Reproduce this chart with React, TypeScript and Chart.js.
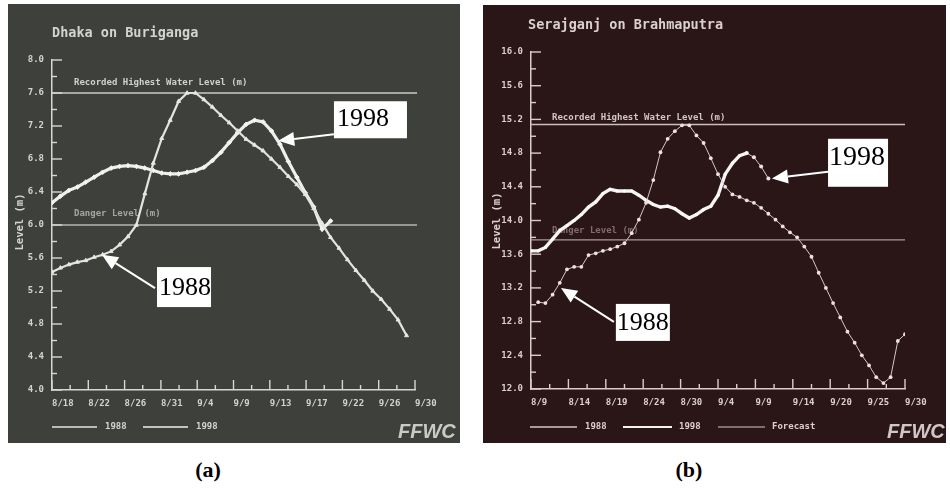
import React, { useEffect, useRef } from "react";
import { Chart, registerables } from "chart.js";

Chart.register(...registerables);

// ---------------- data ----------------
// Panel (a): Dhaka on Buriganga — daily water level (m), day 0 = 8/18
const dhakaTickLabels = ["8/18", "8/22", "8/26", "8/31", "9/4", "9/9", "9/13", "9/17", "9/22", "9/26", "9/30"];
const dhakaSpanDays = 43;
const dhaka1988Start = 0;
const dhaka1988 = [
  5.43, 5.48, 5.52, 5.55, 5.57, 5.61, 5.64, 5.68, 5.76, 5.86, 6.0, 6.38, 6.75, 7.05, 7.27, 7.5, 7.6, 7.6,
  7.52, 7.43, 7.33, 7.24, 7.14, 7.04, 6.97, 6.9, 6.8, 6.7, 6.59, 6.49, 6.37, 6.2, 6.02, 5.85, 5.72, 5.58,
  5.45, 5.33, 5.2, 5.1, 4.98, 4.85, 4.66,
];
const dhaka1998Start = 0;
const dhaka1998 = [
  6.27, 6.35, 6.42, 6.46, 6.52, 6.58, 6.64, 6.69, 6.71, 6.72, 6.71, 6.69, 6.66, 6.63, 6.62, 6.62, 6.64,
  6.66, 6.7, 6.78, 6.88, 7.0, 7.12, 7.22, 7.27, 7.25, 7.14, 6.98, 6.77, 6.58, 6.39, 6.22, 5.95, 6.05,
];
const dhakaRecordLevel = 7.6;
const dhakaDangerLevel = 6.0;

// Panel (b): Serajganj on Brahmaputra — daily water level (m), day 0 = 8/9
const serajTickLabels = ["8/9", "8/14", "8/19", "8/24", "8/30", "9/4", "9/9", "9/14", "9/20", "9/25", "9/30"];
const serajSpanDays = 52;
const seraj1988Start = 1;
const seraj1988 = [
  13.03, 13.02, 13.12, 13.26, 13.42, 13.45, 13.45, 13.59, 13.61, 13.64, 13.66, 13.69, 13.73, 13.85, 14.01,
  14.21, 14.48, 14.81, 14.97, 15.06, 15.13, 15.13, 15.01, 14.92, 14.74, 14.55, 14.4, 14.31, 14.28, 14.24,
  14.21, 14.15, 14.08, 14.01, 13.93, 13.86, 13.8, 13.69, 13.57, 13.38, 13.2, 13.02, 12.85, 12.68, 12.55,
  12.4, 12.28, 12.14, 12.07, 12.14, 12.57, 12.65,
];
const seraj1998Start = 0;
const seraj1998 = [
  13.64, 13.64, 13.68, 13.78, 13.88, 13.94, 14.0, 14.07, 14.16, 14.22, 14.32, 14.37, 14.35, 14.35, 14.35,
  14.3, 14.24, 14.19, 14.16, 14.17, 14.14, 14.08, 14.03, 14.07, 14.13, 14.17, 14.3, 14.55, 14.68, 14.77, 14.8,
];
const serajForecastStart = 30;
const serajForecast = [14.8, 14.75, 14.64, 14.5];
const serajRecordLevel = 15.14;
const serajDangerLevel = 13.77;

const toPoints = (vals: number[], start: number) => vals.map((y, i) => ({ x: start + i, y }));

// ---------------- panel specs ----------------
const MONO = "'DejaVu Sans Mono', monospace";

type Note = {
  text: string; tipX: number; tipY: number; boxX: number; boxY: number;
  w: number; h: number; tailDx: number; tailDy: number; textDx: number; textDy: number; size: number;
};

type PanelSpec = {
  left: number; top: number; w: number; h: number; bg: string;
  yMin: number; yMax: number; yLeft: number; xBottom: number; padTop: number; padRight: number;
  labels: string[]; span: number;
  title: string; titleX: number; titleY: number;
  textColor: string; axisColor: string;
  refLines: { value: number; label: string; labelColor: string; lineColor: string; labelX: number; labelDy: number }[];
  refOverhang: number;
  axisLabelX: number; axisLabelY: number;
  legendY: number;
  legend: { x: number; len: number; lw: number; label: string; textX: number }[];
  logoX: number; logoY: number; logoColor: string;
  notes: Note[];
  datasets: any[];
};

const panelA: PanelSpec = {
  left: 8, top: 4, w: 452, h: 439, bg: "#3e403c",
  yMin: 4, yMax: 8, yLeft: 44, xBottom: 53, padTop: 56, padRight: 45,
  labels: dhakaTickLabels, span: dhakaSpanDays,
  title: "Dhaka on Buriganga", titleX: 44, titleY: 29,
  textColor: "#d2d4d0", axisColor: "#d6d8d4",
  refLines: [
    { value: dhakaRecordLevel, label: "Recorded Highest Water Level (m)", labelColor: "#cfd1cd", lineColor: "#c9cbc7", labelX: 66, labelDy: -10 },
    { value: dhakaDangerLevel, label: "Danger Level (m)", labelColor: "#a3a6a1", lineColor: "#b4b6b2", labelX: 66, labelDy: -11 },
  ],
  refOverhang: 2,
  axisLabelX: 12, axisLabelY: 218,
  legendY: 423,
  legend: [
    { x: 44, len: 45, lw: 1.6, label: "1988", textX: 97 },
    { x: 135, len: 45, lw: 1.6, label: "1998", textX: 188 },
  ],
  logoX: 390, logoY: 428, logoColor: "#c8cac6",
  notes: [
    { text: "1998", tipX: 26.8, tipY: 7.02, boxX: 33.4, boxY: 7.5, w: 73, h: 37, tailDx: 0, tailDy: 33, textDx: 3, textDy: 18, size: 26 },
    { text: "1988", tipX: 5.92, tipY: 5.64, boxX: 12.44, boxY: 5.49, w: 54, h: 40, tailDx: -2, tailDy: 21, textDx: 2, textDy: 21, size: 26 },
  ],
  datasets: [
    {
      label: "1988", data: toPoints(dhaka1988, dhaka1988Start),
      borderColor: "#e1e5e1", backgroundColor: "#e1e5e1", borderWidth: 2.2,
      pointStyle: "triangle", pointRadius: 2.3, pointBorderWidth: 1, pointBackgroundColor: "#e9ede9",
    },
    {
      label: "1998", data: toPoints(dhaka1998, dhaka1998Start),
      borderColor: "#eef0ee", backgroundColor: "#eef0ee", borderWidth: 3.2,
      pointStyle: "rectRot", pointRadius: 2.3, pointBorderWidth: 1, pointBackgroundColor: "#f4f6f4",
    },
  ],
};

const panelB: PanelSpec = {
  left: 483, top: 5, w: 463, h: 438, bg: "#2b1617",
  yMin: 12, yMax: 16, yLeft: 48, xBottom: 54, padTop: 47, padRight: 41,
  labels: serajTickLabels, span: serajSpanDays,
  title: "Serajganj on Brahmaputra", titleX: 45, titleY: 20,
  textColor: "#dccfcf", axisColor: "#d8cccc",
  refLines: [
    { value: serajRecordLevel, label: "Recorded Highest Water Level (m)", labelColor: "#d2c5c5", lineColor: "#cbbdbd", labelX: 69, labelDy: -7 },
    { value: serajDangerLevel, label: "Danger Level (m)", labelColor: "#836b6b", lineColor: "#a99a9a", labelX: 69, labelDy: -9 },
  ],
  refOverhang: 0,
  axisLabelX: 14, axisLabelY: 216,
  legendY: 422,
  legend: [
    { x: 47, len: 47, lw: 1.3, label: "1988", textX: 102 },
    { x: 140, len: 49, lw: 2.2, label: "1998", textX: 196 },
    { x: 235, len: 47, lw: 1, label: "Forecast", textX: 289 },
  ],
  logoX: 404, logoY: 427, logoColor: "#d0c6c6",
  notes: [
    { text: "1998", tipX: 33.5, tipY: 14.5, boxX: 41.3, boxY: 14.97, w: 60, h: 48, tailDx: 0, tailDy: 33, textDx: 1, textDy: 19, size: 28 },
    { text: "1988", tipX: 4.17, tipY: 13.2, boxX: 11.8, boxY: 13.01, w: 54, h: 37, tailDx: -2, tailDy: 18, textDx: 1, textDy: 19, size: 26 },
  ],
  datasets: [
    {
      label: "1988", data: toPoints(seraj1988, seraj1988Start),
      borderColor: "#d4c6c6", backgroundColor: "#d4c6c6", borderWidth: 1,
      pointStyle: "circle", pointRadius: 1.9, pointBorderWidth: 0, pointBackgroundColor: "#ebe3e3",
    },
    {
      label: "1998", data: toPoints(seraj1998, seraj1998Start),
      borderColor: "#f6f2f2", backgroundColor: "#f6f2f2", borderWidth: 3.4,
      pointStyle: "circle", pointRadius: 1.6, pointBorderWidth: 0, pointBackgroundColor: "#ffffff",
    },
    {
      label: "Forecast", data: toPoints(serajForecast, serajForecastStart),
      borderColor: "#d4c6c6", backgroundColor: "#d4c6c6", borderWidth: 1,
      pointStyle: "circle", pointRadius: 2, pointBorderWidth: 0, pointBackgroundColor: "#ebe3e3",
    },
  ],
};

// ---------------- decoration plugin ----------------
function decorPlugin(spec: PanelSpec) {
  return {
    id: "decor",
    beforeDatasetsDraw(chart: any) {
      const { ctx, chartArea, scales } = chart;
      const xs = scales.x;
      const ys = scales.y;
      ctx.save();
      // reference lines
      spec.refLines.forEach((r) => {
        const py = ys.getPixelForValue(r.value);
        ctx.strokeStyle = r.lineColor;
        ctx.lineWidth = 1.4;
        ctx.beginPath();
        ctx.moveTo(chartArea.left, py);
        ctx.lineTo(chartArea.right + spec.refOverhang, py);
        ctx.stroke();
        ctx.fillStyle = r.labelColor;
        ctx.font = `bold 9px ${MONO}`;
        ctx.textAlign = "left";
        ctx.textBaseline = "middle";
        ctx.fillText(r.label, r.labelX, py + r.labelDy);
      });
      // inward tick marks
      ctx.strokeStyle = spec.axisColor;
      ctx.lineWidth = 1.4;
      const ySteps = Math.round((spec.yMax - spec.yMin) / 0.2);
      for (let k = 0; k <= ySteps; k++) {
        const py = ys.getPixelForValue(spec.yMin + k * 0.2);
        const len = k % 2 === 0 ? 10 : 5;
        ctx.beginPath();
        ctx.moveTo(chartArea.left, py);
        ctx.lineTo(chartArea.left + len, py);
        ctx.stroke();
      }
      const n = (spec.labels.length - 1) * 2;
      for (let k = 0; k <= n; k++) {
        const px = xs.getPixelForValue((k * spec.span) / n);
        const len = k % 2 === 0 ? 10 : 5;
        ctx.beginPath();
        ctx.moveTo(px, chartArea.bottom);
        ctx.lineTo(px, chartArea.bottom - len);
        ctx.stroke();
      }
      ctx.restore();
    },
    afterDraw(chart: any) {
      const { ctx, scales } = chart;
      const xs = scales.x;
      const ys = scales.y;
      ctx.save();
      // title
      ctx.fillStyle = spec.textColor;
      ctx.font = `bold 13.5px ${MONO}`;
      ctx.textAlign = "left";
      ctx.textBaseline = "middle";
      ctx.fillText(spec.title, spec.titleX, spec.titleY);
      // y-axis title
      ctx.save();
      ctx.translate(spec.axisLabelX, spec.axisLabelY);
      ctx.rotate(-Math.PI / 2);
      ctx.font = `bold 10.5px ${MONO}`;
      ctx.textAlign = "center";
      ctx.fillText("Level (m)", 0, 0);
      ctx.restore();
      // legend
      chart.data.datasets.forEach((ds: any, i: number) => {
        const it = spec.legend[i];
        if (!it) return;
        ctx.strokeStyle = ds.borderColor;
        ctx.lineWidth = it.lw;
        ctx.beginPath();
        ctx.moveTo(it.x, spec.legendY);
        ctx.lineTo(it.x + it.len, spec.legendY);
        ctx.stroke();
        ctx.fillStyle = spec.textColor;
        ctx.font = `bold 9px ${MONO}`;
        ctx.textAlign = "left";
        ctx.textBaseline = "middle";
        ctx.fillText(ds.label, it.textX, spec.legendY);
      });
      // logo
      ctx.fillStyle = spec.logoColor;
      ctx.font = "bold italic 20px 'Liberation Sans', Arial, sans-serif";
      ctx.textAlign = "left";
      ctx.textBaseline = "middle";
      ctx.fillText("FFWC", spec.logoX, spec.logoY);
      // annotation boxes with arrows
      spec.notes.forEach((nt) => {
        const bx = xs.getPixelForValue(nt.boxX);
        const by = ys.getPixelForValue(nt.boxY);
        const tx = xs.getPixelForValue(nt.tipX);
        const ty = ys.getPixelForValue(nt.tipY);
        const sx = bx + nt.tailDx;
        const sy = by + nt.tailDy;
        const ang = Math.atan2(ty - sy, tx - sx);
        const headLen = 16;
        const headHalf = 7;
        const baseX = tx - headLen * Math.cos(ang);
        const baseY = ty - headLen * Math.sin(ang);
        ctx.strokeStyle = "#ffffff";
        ctx.fillStyle = "#ffffff";
        ctx.lineWidth = 2;
        ctx.beginPath();
        ctx.moveTo(sx, sy);
        ctx.lineTo(baseX, baseY);
        ctx.stroke();
        ctx.beginPath();
        ctx.moveTo(tx, ty);
        ctx.lineTo(baseX + headHalf * Math.sin(ang), baseY - headHalf * Math.cos(ang));
        ctx.lineTo(baseX - headHalf * Math.sin(ang), baseY + headHalf * Math.cos(ang));
        ctx.closePath();
        ctx.fill();
        ctx.fillRect(bx, by, nt.w, nt.h);
        ctx.fillStyle = "#000000";
        ctx.font = `${nt.size}px 'Liberation Serif', 'Times New Roman', serif`;
        ctx.textAlign = "left";
        ctx.textBaseline = "middle";
        ctx.fillText(nt.text, bx + nt.textDx, by + nt.textDy);
      });
      ctx.restore();
    },
  };
}

function buildConfig(spec: PanelSpec): any {
  const labels = spec.labels;
  const nInt = labels.length - 1;
  return {
    type: "line",
    data: { datasets: spec.datasets },
    options: {
      responsive: false,
      animation: false,
      devicePixelRatio: 1,
      events: [],
      layout: { padding: { left: 0, right: spec.padRight, top: spec.padTop, bottom: 0 } },
      plugins: { legend: { display: false }, tooltip: { enabled: false }, title: { display: false } },
      elements: { line: { tension: 0 } },
      scales: {
        x: {
          type: "linear",
          min: 0,
          max: spec.span,
          afterBuildTicks: (s: any) => {
            s.ticks = labels.map((_, i) => ({ value: (i * spec.span) / nInt }));
          },
          afterFit: (s: any) => {
            s.height = spec.xBottom;
          },
          grid: { display: false, drawTicks: false },
          border: { display: true, color: spec.axisColor, width: 1.5 },
          ticks: {
            autoSkip: false,
            maxRotation: 0,
            minRotation: 0,
            align: "start",
            padding: 8,
            color: spec.textColor,
            font: { family: MONO, size: 9, weight: "bold" },
            callback: (_v: any, i: number) => labels[i],
          },
        },
        y: {
          type: "linear",
          min: spec.yMin,
          max: spec.yMax,
          afterBuildTicks: (s: any) => {
            const t = [];
            const steps = Math.round((spec.yMax - spec.yMin) / 0.4);
            for (let k = 0; k <= steps; k++) t.push({ value: spec.yMin + k * 0.4 });
            s.ticks = t;
          },
          afterFit: (s: any) => {
            s.width = spec.yLeft;
          },
          grid: { display: false, drawTicks: false },
          border: { display: true, color: spec.axisColor, width: 1.5 },
          ticks: {
            padding: 8,
            color: spec.textColor,
            font: { family: MONO, size: 9, weight: "bold" },
            callback: (v: any) => Number(v).toFixed(1),
          },
        },
      },
    },
    plugins: [decorPlugin(spec)],
  };
}

function Panel({ spec }: { spec: PanelSpec }) {
  const ref = useRef<HTMLCanvasElement>(null);
  useEffect(() => {
    if (!ref.current) return;
    const chart = new Chart(ref.current, buildConfig(spec));
    return () => chart.destroy();
  }, [spec]);
  return (
    <canvas
      ref={ref}
      width={spec.w}
      height={spec.h}
      style={{ position: "absolute", left: spec.left, top: spec.top, width: spec.w, height: spec.h, background: spec.bg }}
    />
  );
}

const captionStyle: React.CSSProperties = {
  position: "absolute",
  top: 456,
  width: 60,
  textAlign: "center",
  fontFamily: "'Liberation Serif', 'Times New Roman', serif",
  fontWeight: "bold",
  fontSize: 22,
  lineHeight: "28px",
  color: "#000",
};

export default function App() {
  return (
    <div style={{ position: "fixed", left: 0, top: 0, width: 950, height: 490, background: "#ffffff", overflow: "hidden" }}>
      <Panel spec={panelA} />
      <Panel spec={panelB} />
      <div style={{ ...captionStyle, left: 178 }}>(a)</div>
      <div style={{ ...captionStyle, left: 659 }}>(b)</div>
    </div>
  );
}
